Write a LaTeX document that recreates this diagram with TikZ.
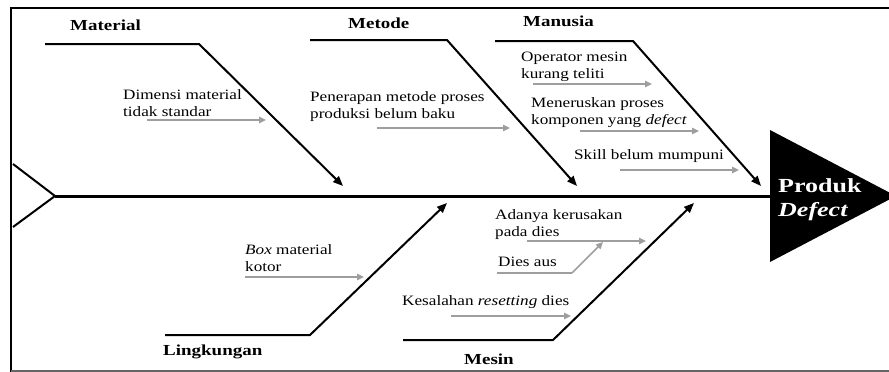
\documentclass[tikz,border=0pt]{standalone}
\usepackage{fontspec}
\setmainfont[FakeStretch=1.2]{Liberation Serif}
\newfontfamily\labelfont[FakeStretch=1.24]{Liberation Serif}
\newfontfamily\headfont[FakeStretch=1.3]{Liberation Serif}
\usetikzlibrary{arrows.meta}
\tikzset{
  cause/.style={anchor=base west, inner sep=0pt, align=left, font=\fontsize{14.3}{16.8}\selectfont},
  catlabel/.style={anchor=base west, inner sep=0pt, font=\labelfont\bfseries\fontsize{15.3}{18}\selectfont},
  headtext/.style={anchor=base west, inner sep=0pt, text=white, font=\headfont\bfseries\fontsize{20}{24}\selectfont},
  bone/.style={line width=2pt, line join=miter},
  bonearrow/.style={bone, -{Triangle[length=10pt,width=8pt]}},
  garrow/.style={draw=black!38, line width=1.5pt, -{Triangle[length=7pt,width=6.5pt]}},
  gline/.style={draw=black!38, line width=1.2pt},
  frame/.style={line width=2.4pt},
}
\begin{document}
\begin{tikzpicture}[x=1pt,y=-1pt]
\useasboundingbox (0,0) rectangle (889,372);
% frame
\draw[frame] (889,8) -- (11,8) -- (11,372);
\draw[line width=1.5pt, black!60] (11,371) -- (889,371);
% head
\coordinate (hd1) at (770,130);
\coordinate (hd2) at (896,196);
\coordinate (hd3) at (770,262);
\fill (hd1) -- (hd2) -- (hd3) -- cycle;
\node[headtext] (prod) at (778,192.7) {Produk};
\node[headtext] (def) at (778,216) {\itshape Defect};
% tail and spine
\coordinate (t1) at (13,164);
\coordinate (t0) at (55,196);
\coordinate (t2) at (13,227);
\draw[bone] (t1) -- (t0) -- (t2);
\draw[line width=3pt] (t0) -- (770,196);
% top bones
\coordinate (ma) at (45,44); \coordinate (mb) at (199,44); \coordinate (mc) at (343,186);
\draw[bonearrow] (ma) -- (mb) -- (mc);
\coordinate (mta) at (310,40); \coordinate (mtb) at (447,40); \coordinate (mtc) at (577,186);
\draw[bonearrow] (mta) -- (mtb) -- (mtc);
\coordinate (mna) at (495,41); \coordinate (mnb) at (633,41); \coordinate (mnc) at (761,186);
\draw[bonearrow] (mna) -- (mnb) -- (mnc);
% bottom bones
\coordinate (la) at (165,335); \coordinate (lb) at (310,335); \coordinate (lc) at (447,203);
\draw[bonearrow] (la) -- (lb) -- (lc);
\coordinate (msa) at (403,340); \coordinate (msb) at (553,340); \coordinate (msc) at (694,203);
\draw[bonearrow] (msa) -- (msb) -- (msc);
% category labels
\node[catlabel] (lmat) at (70,30) {Material};
\node[catlabel] (lmet) at (348,28) {Metode};
\node[catlabel] (lman) at (523,26) {Manusia};
\node[catlabel] (lling) at (163,355) {Lingkungan};
\node[catlabel] (lmes) at (464,364) {Mesin};
% causes (multi-line nodes: base anchor is the last line)
\node[cause] (c1) at (123,116) {Dimensi material\\tidak standar};
\coordinate (c1a) at (147,120); \coordinate (c1b) at (266,120);
\draw[garrow] (c1a) -- (c1b);
\node[cause] (c2) at (310,118.5) {Penerapan metode proses\\produksi belum baku};
\coordinate (c2a) at (377,128); \coordinate (c2b) at (510,128);
\draw[garrow] (c2a) -- (c2b);
\node[cause] (c3) at (521,78) {Operator mesin\\kurang teliti};
\coordinate (c3a) at (533,84); \coordinate (c3b) at (652,84);
\draw[garrow] (c3a) -- (c3b);
\node[cause] (c4) at (531,124) {Meneruskan proses\\komponen yang \textit{defect}};
\coordinate (c4a) at (580,131); \coordinate (c4b) at (699,131);
\draw[garrow] (c4a) -- (c4b);
\node[cause] (c5) at (574,159) {Skill belum mumpuni};
\coordinate (c5a) at (620,170); \coordinate (c5b) at (739,170);
\draw[garrow] (c5a) -- (c5b);
\node[cause] (c6) at (245,271) {\textit{Box} material\\kotor};
\coordinate (c6a) at (245,277); \coordinate (c6b) at (364,277);
\draw[garrow] (c6a) -- (c6b);
\node[cause] (c7) at (495,236.7) {Adanya kerusakan\\pada dies};
\coordinate (c7a) at (527,241); \coordinate (c7b) at (646,241);
\draw[garrow] (c7a) -- (c7b);
\node[cause] (c8) at (498,266) {Dies aus};
\coordinate (c8a) at (497,273); \coordinate (c8b) at (572,273); \coordinate (c8c) at (603,242);
\draw[gline] (c8a) -- (c8b);
\draw[garrow] (c8b) -- (c8c);
\node[cause] (c9) at (402,305) {Kesalahan \textit{resetting} dies};
\coordinate (c9a) at (451,316); \coordinate (c9b) at (571,316);
\draw[garrow] (c9a) -- (c9b);
\end{tikzpicture}
\end{document}
